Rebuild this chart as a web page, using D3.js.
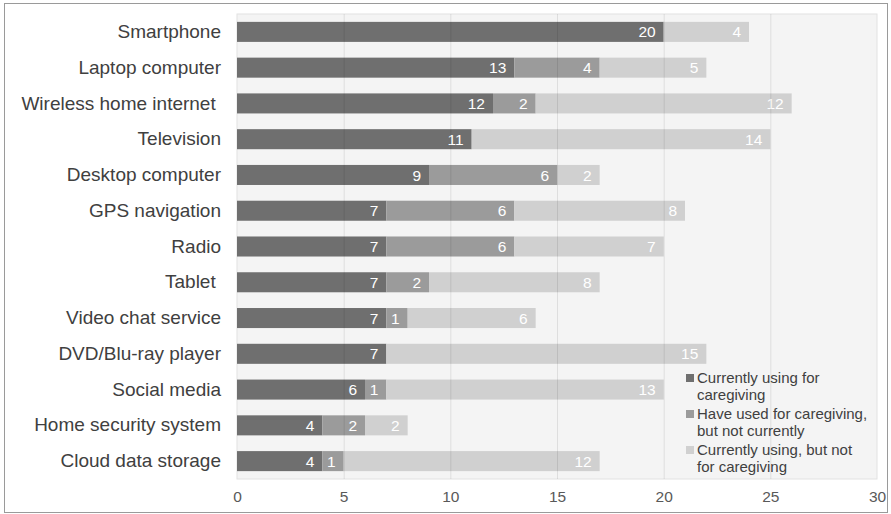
<!DOCTYPE html>
<html>
<head>
<meta charset="utf-8">
<script src="https://cdn.jsdelivr.net/npm/d3@7"></script>
<style>
  body { margin: 0; background: #fff; }
  text { font-family: "Liberation Sans", Arial, sans-serif; }
</style>
</head>
<body>
<script>
var w = 891;
var h = 514;

// data
var categories = ["Smartphone", "Laptop computer", "Wireless home internet ", "Television",
  "Desktop computer", "GPS navigation", "Radio", "Tablet ", "Video chat service",
  "DVD/Blu-ray player", "Social media", "Home security system", "Cloud data storage"];
var usingCare = [20, 13, 12, 11, 9, 7, 7, 7, 7, 7, 6, 4, 4];
var usedBefore = [0, 4, 2, 0, 6, 6, 6, 2, 1, 0, 1, 2, 1];
var usingNotCare = [4, 5, 12, 14, 2, 8, 7, 8, 6, 15, 13, 2, 12];
var seriesNames = ["Currently using for caregiving", "Have used for caregiving, but not currently",
  "Currently using, but not for caregiving"];
var legendLines = [["Currently using for", "caregiving"], ["Have used for caregiving,", "but not currently"],
  ["Currently using, but not", "for caregiving"]];
var xTicks = [0, 5, 10, 15, 20, 25, 30];
var colors = ["#6f6f6f", "#9b9b9b", "#d0d0d0"];

var plotL = 237, plotR = 877, plotT = 14, plotB = 479;

var svg = d3.select("body").append("svg")
  .attr("width", w)
  .attr("height", h);

svg.append("rect")
  .attr("x", 4.5).attr("y", 3.5)
  .attr("width", 883).attr("height", 509)
  .attr("fill", "#fff")
  .attr("stroke", "#9a9a9a");

var xScale = d3.scaleLinear().domain([0, 30]).range([plotL, plotR]);
var yScale = d3.scaleBand().domain(categories).range([plotT, plotB]).paddingInner(0.44).paddingOuter(0.22);

svg.append("rect")
  .attr("x", plotL).attr("y", plotT)
  .attr("width", plotR - plotL).attr("height", plotB - plotT)
  .attr("fill", "#f4f4f4")
  .attr("stroke", "#e2e2e2");

var rows = categories.map(function(c, i) {
  return { cat: c, a: usingCare[i], b: usedBefore[i], c: usingNotCare[i] };
});
var stack = d3.stack().keys(["a", "b", "c"])(rows);

var groups = svg.selectAll("g.series")
  .data(stack)
  .enter().append("g")
  .attr("class", "series")
  .attr("fill", function(d, i) { return colors[i]; });

groups.selectAll("rect")
  .data(function(d) { return d; })
  .enter().append("rect")
  .attr("x", function(d) { return xScale(d[0]); })
  .attr("y", function(d) { return yScale(d.data.cat); })
  .attr("width", function(d) { return xScale(d[1]) - xScale(d[0]); })
  .attr("height", yScale.bandwidth());

// gridlines show faintly through the bars in the original
svg.selectAll("line.grid")
  .data(xTicks.slice(1, -1))
  .enter().append("line")
  .attr("class", "grid")
  .attr("x1", function(d) { return xScale(d) + 0.5; })
  .attr("x2", function(d) { return xScale(d) + 0.5; })
  .attr("y1", plotT).attr("y2", plotB)
  .attr("stroke", "#000")
  .attr("stroke-opacity", 0.09);

groups.selectAll("text")
  .data(function(d) { return d.filter(function(s) { return s[1] > s[0]; }); })
  .enter().append("text")
  .attr("x", function(d) { return xScale(d[1]) - 8; })
  .attr("y", function(d) { return yScale(d.data.cat) + yScale.bandwidth() / 2; })
  .attr("dy", "0.36em")
  .attr("text-anchor", "end")
  .attr("fill", "#fff")
  .style("font-size", "15.5px")
  .text(function(d) { return d[1] - d[0]; });

var yAxis = d3.axisLeft(yScale).tickSize(0).tickPadding(16);
var gy = svg.append("g")
  .attr("transform", "translate(" + plotL + ",0)")
  .call(yAxis);
gy.select(".domain").remove();
gy.selectAll("text")
  .style("font-size", "19px")
  .style("white-space", "pre")
  .style("font-family", "'Liberation Sans', Arial, sans-serif")
  .attr("fill", "#404040");

var xAxis = d3.axisBottom(xScale).tickValues(xTicks).tickSize(0).tickPadding(12);
var gx = svg.append("g")
  .attr("transform", "translate(0," + plotB + ")")
  .call(xAxis);
gx.select(".domain").remove();
gx.selectAll("text")
  .style("font-size", "15.5px")
  .style("font-family", "'Liberation Sans', Arial, sans-serif")
  .attr("fill", "#595959");

var legend = svg.append("g").attr("transform", "translate(686,370)");
var item = legend.selectAll("g")
  .data(seriesNames)
  .enter().append("g")
  .attr("transform", function(d, i) { return "translate(0," + (i * 36) + ")"; });
item.append("rect")
  .attr("x", 0).attr("y", 4)
  .attr("width", 8).attr("height", 8)
  .attr("fill", function(d, i) { return colors[i]; });
item.each(function(d, i) {
  var t = d3.select(this).append("text")
    .attr("x", 11).attr("y", 13)
    .attr("fill", "#404040")
    .style("font-size", "15px");
  legendLines[i].forEach(function(line, j) {
    t.append("tspan").attr("x", 11).attr("dy", j === 0 ? 0 : 16.5).text(line);
  });
});
</script>
</body>
</html>
